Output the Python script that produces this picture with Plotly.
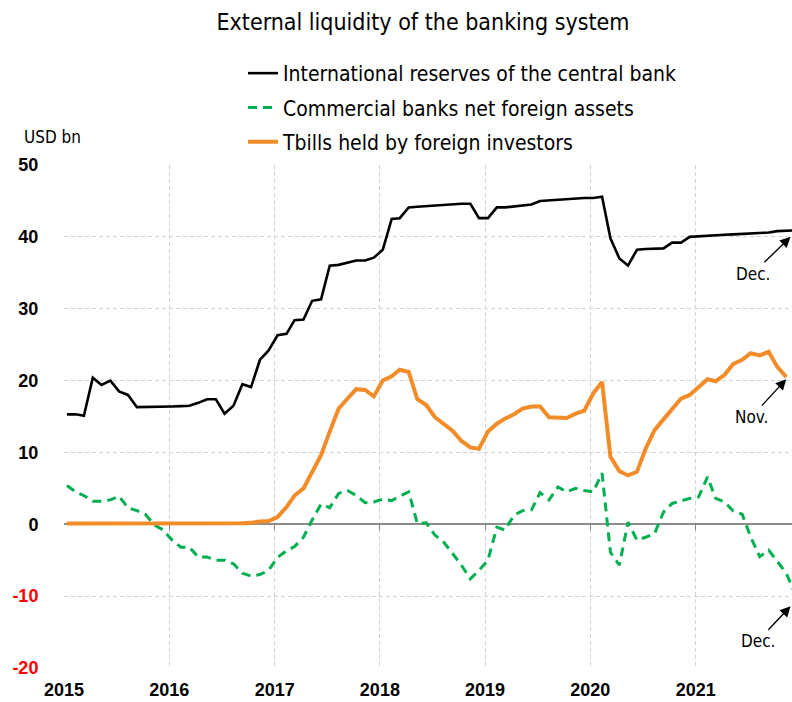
import pandas as pd
import plotly.graph_objects as go

# ---- data (monthly, Jan 2015 ...) ----
start_month = "2015-01-01"
reserves = [15.3, 15.3, 15.1, 20.4, 19.4, 20.0, 18.5, 18.0, 16.3, 16.35, 16.35, 16.4,
            16.4, 16.45, 16.5, 16.9, 17.4, 17.4, 15.4, 16.5, 19.5, 19.1, 22.9, 24.2,
            26.3, 26.5, 28.4, 28.5, 31.1, 31.3, 36.0, 36.1, 36.4, 36.7, 36.7, 37.1,
            38.2, 42.5, 42.6, 44.1, 44.2, 44.3, 44.4, 44.5, 44.5, 44.6, 44.6, 42.6,
            42.6, 44.1, 44.1, 44.2, 44.3, 44.5, 45.0, 45.1, 45.1, 45.2, 45.35, 45.4,
            45.4, 45.6, 39.8, 37.0, 36.0, 38.2, 38.3, 38.3, 38.4, 39.2, 39.2, 40.0,
            40.1, 40.15, 40.2, 40.3, 40.35, 40.4, 40.5, 40.55, 40.6, 40.8, 40.8, 40.9]
banks_nfa = [5.4, 4.5, 4.0, 3.2, 3.2, 3.4, 3.9, 2.3, 1.9, 1.35, -0.1, -0.8,
             -2.2, -3.2, -3.2, -4.55, -4.55, -5.0, -5.0, -5.5, -6.8, -7.2, -7.0, -6.4,
             -4.6, -3.7, -3.1, -1.8, 0.6, 2.8, 2.3, 4.3, 4.7, 4.0, 3.0, 3.1,
             3.5, 3.3, 3.9, 4.5, 0.1, 0.2, -1.5, -2.5, -4.1, -5.7, -7.6, -6.4,
             -5.0, -0.4, -0.8, 1.25, 1.9, 2.0, 4.4, 3.4, 5.2, 4.5, 5.0, 4.7,
             4.5, 7.1, -3.9, -5.7, 0.3, -2.2, -1.8, -1.3, 1.7, 2.9, 3.25, 3.6,
             3.8, 6.6, 3.6, 3.1, 1.85, 1.4, -1.8, -4.5, -3.6, -5.25, -6.8, -9.6]
tbills = [0.1, 0.1, 0.05, 0.05, 0.05, 0.05, 0.05, 0.05, 0.05, 0.05, 0.05, 0.05,
          0.05, 0.05, 0.05, 0.1, 0.1, 0.1, 0.1, 0.1, 0.15, 0.2, 0.4, 0.45,
          1.0, 2.4, 4.0, 5.0, 7.3, 9.6, 12.9, 16.1, 17.5, 18.8, 18.7, 17.8,
          20.0, 20.6, 21.5, 21.2, 17.4, 16.6, 14.9, 14.0, 13.0, 11.6, 10.7, 10.5,
          12.9, 14.0, 14.7, 15.3, 16.1, 16.4, 16.4, 14.9, 14.9, 14.8, 15.4, 15.8,
          18.2, 19.8, 9.4, 7.4, 6.8, 7.3, 10.5, 13.1, 14.6, 16.1, 17.5, 18.0,
          19.1, 20.2, 19.9, 20.8, 22.3, 22.9, 23.8, 23.5, 24.0, 21.9, 20.5]

series_names = ["International reserves of the central bank",
                "Commercial banks net foreign assets",
                "Tbills held by foreign investors"]
y_ticks = [-20, -10, 0, 10, 20, 30, 40, 50]
x_tick_labels = ["2015", "2016", "2017", "2018", "2019", "2020", "2021"]

dates = pd.date_range(start=start_month, periods=len(reserves), freq="MS") + pd.Timedelta(days=10)
x_range = ["2015-01-01", "2021-12-01"]

COND = "Liberation Sans Narrow, DejaVu Sans Condensed, Roboto Condensed, Open Sans, sans-serif"
NUM = "Liberation Sans, Arial, sans-serif"

fig = go.Figure()
fig.add_trace(go.Scatter(x=dates, y=reserves, name=series_names[0], mode="lines",
                         line=dict(color="#000000", width=2.6), legendgroup="a"))
fig.add_trace(go.Scatter(x=dates, y=banks_nfa, name=series_names[1], mode="lines",
                         line=dict(color="#00B050", width=3, dash="9px,6px"), legendgroup="b"))
fig.add_trace(go.Scatter(x=dates[:len(tbills)], y=tbills, name=series_names[2], mode="lines",
                         line=dict(color="#F28C28", width=4), legendgroup="c"))

ticktext = [(f"<span style='color:#FF0000'>{v}</span>" if v < 0 else str(v)) for v in y_ticks]

fig.update_layout(
    width=792, height=702,
    margin=dict(l=64, r=0, t=165, b=34, autoexpand=False),
    paper_bgcolor="white", plot_bgcolor="white",
    title=dict(text="External liquidity of the banking system", x=423/792, xref="container",
               xanchor="center", y=1-22/702, yref="container", yanchor="middle",
               font=dict(family=COND, size=23, color="#000")),
    showlegend=True,
    legend=dict(x=(243-64)/728, xanchor="left", y=(668-53)/503, yanchor="top",
                font=dict(family=COND, size=21, color="#000"),
                traceorder="grouped", tracegroupgap=4, bgcolor="rgba(0,0,0,0)"),
    xaxis=dict(type="date", range=x_range, tickvals=[f"{y}-01-01" for y in x_tick_labels],
               ticktext=x_tick_labels, showgrid=True, gridcolor="#D3D3D3", griddash="4px,3px",
               gridwidth=1, zeroline=False, showline=False, ticks="outside", ticklen=5,
               tickcolor="rgba(0,0,0,0)",
               tickfont=dict(family=NUM, size=18, color="#000", weight="bold")),
    xaxis2=dict(type="date", range=x_range, overlaying="x", anchor="free",
                position=20/70, tickvals=[f"{y}-01-01" for y in x_tick_labels[1:]],
                showticklabels=False, ticks="outside", ticklen=5, tickcolor="#808080",
                showgrid=False, zeroline=False, showline=False),
    yaxis=dict(range=[-20, 50], tickvals=y_ticks, ticktext=ticktext, showgrid=True,
               gridcolor="#D3D3D3", griddash="4px,3px", gridwidth=1, zeroline=True,
               zerolinecolor="#8C8C8C", zerolinewidth=1.5, ticks="outside", ticklen=21,
               tickcolor="rgba(0,0,0,0)",
               tickfont=dict(family=NUM, size=18, color="#000", weight="bold")),
)

# invisible trace to make xaxis2 render
fig.add_trace(go.Scatter(x=[dates[0]], y=[None], xaxis="x2", showlegend=False,
                         hoverinfo="skip", mode="lines"))

fig.add_annotation(text="USD bn", xref="paper", yref="paper", x=(22-64)/728, y=(668-137)/503,
                   xanchor="left", yanchor="middle", showarrow=False,
                   font=dict(family=COND, size=17, color="#000"))

arrow = dict(showarrow=True, arrowhead=2, arrowsize=1.5, arrowwidth=1.4, arrowcolor="#000",
             font=dict(family=COND, size=17, color="#000"), standoff=0)
fig.add_annotation(text="Dec.", xref="paper", yref="y", x=0.998, y=reserves[-1] - 0.9,
                   ax=-38, ay=37, **arrow)
fig.add_annotation(text="Nov.", xref="x", yref="y", x=dates[len(tbills)-1], y=tbills[-1] - 0.3,
                   ax=-35, ay=38, **arrow)
fig.add_annotation(text="Dec.", xref="paper", yref="y", x=0.998, y=banks_nfa[-1] - 1.8,
                   ax=-33, ay=35, **arrow)

fig.write_html("out.html", config={"displayModeBar": False},
               post_script="document.body.style.margin='0';document.body.style.overflow='hidden';")
